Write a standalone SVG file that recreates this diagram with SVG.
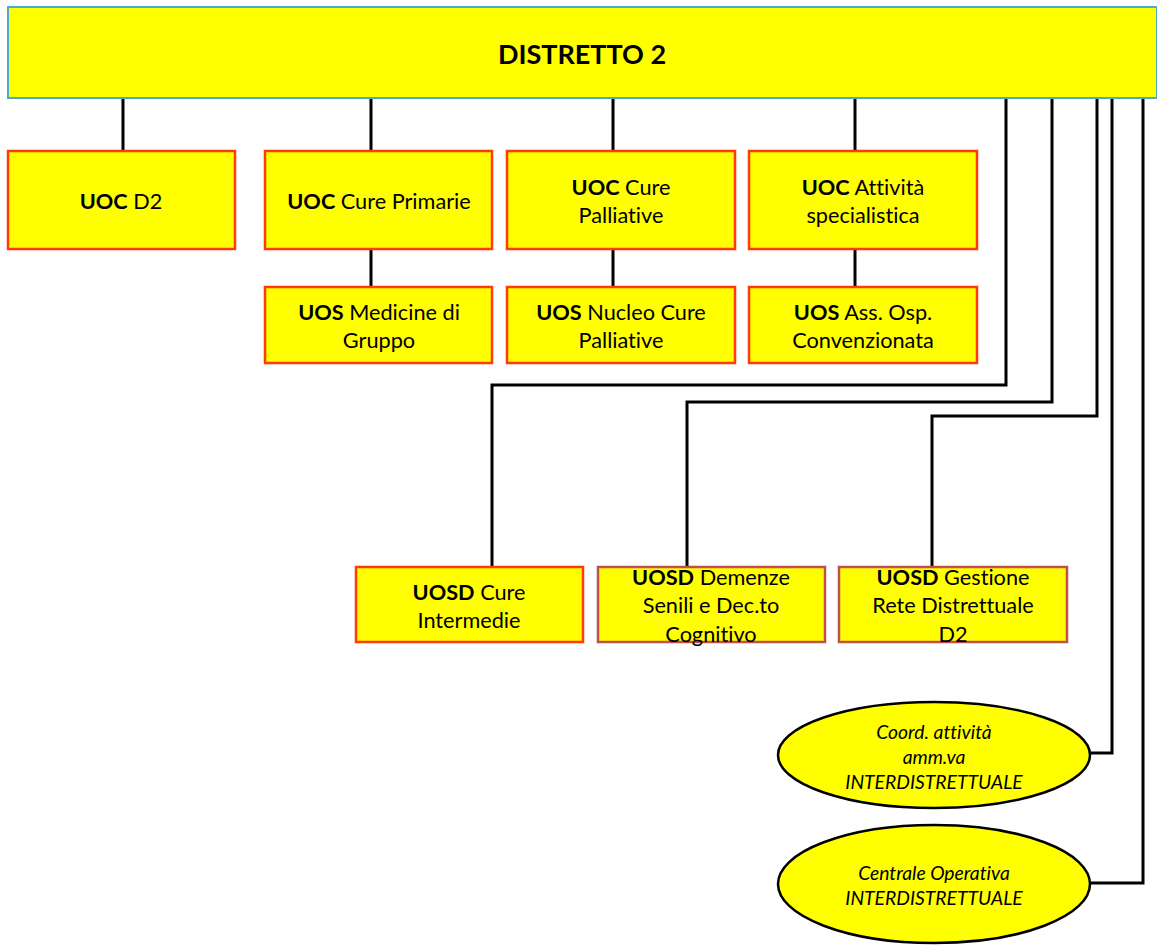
<svg xmlns="http://www.w3.org/2000/svg" width="1157" height="945" viewBox="0 0 1157 945">
<style>
.bg{fill:#ffffff}
.top{fill:#ffff00;stroke:#4bacc6;stroke-width:2}
.box{fill:#ffff00;stroke:#ff3b0a;stroke-width:2.5}
.box2{fill:#ffff00;stroke:#c0504d;stroke-width:2.5}
.ell{fill:#ffff00;stroke:#000;stroke-width:2.5}
text{font-variant-ligatures:none;font-feature-settings:"liga" 0,"clig" 0}
.t{font-family:Lato,"Liberation Sans",sans-serif;font-size:21.7px;fill:#000;text-anchor:middle}
.b{font-weight:bold}
.ti{font-family:Lato,"Liberation Sans",sans-serif;font-size:19.3px;font-style:italic;fill:#000;text-anchor:middle}
.title{font-family:Lato,"Liberation Sans",sans-serif;font-size:27px;font-weight:bold;fill:#000;text-anchor:middle}
.c{fill:none;stroke:#000;stroke-width:3}
</style>
<rect class="bg" x="0" y="0" width="1157" height="945"/>
<g id="connectors">
<path class="c" d="M123 98V150"/>
<path class="c" d="M371 98V150"/>
<path class="c" d="M613 98V150"/>
<path class="c" d="M855 98V150"/>
<path class="c" d="M371 249V287"/>
<path class="c" d="M613 249V287"/>
<path class="c" d="M855 249V287"/>
<path class="c" d="M1006 98V385H492V567"/>
<path class="c" d="M1052 98V402H687V567"/>
<path class="c" d="M1097 98V416H932V567"/>
<path class="c" d="M1112 98V753H1089"/>
<path class="c" d="M1143 98V883H1089"/>
</g>
<g id="distretto2">
<rect class="top" x="8" y="7" width="1149" height="91"/>
<text class="title" x="582" y="64">DISTRETTO 2</text>
</g>
<g id="uoc-d2">
<rect class="box" x="8" y="151" width="227" height="98"/>
<text class="t" x="121" y="209"><tspan class="b">UOC</tspan> D2</text>
</g>
<g id="uoc-cure-primarie">
<rect class="box" x="265" y="151" width="227" height="98"/>
<text class="t" x="379" y="209"><tspan class="b">UOC</tspan> Cure Primarie</text>
</g>
<g id="uoc-cure-palliative">
<rect class="box" x="507" y="151" width="228" height="98"/>
<text class="t" x="621" y="195"><tspan class="b">UOC</tspan> Cure</text>
<text class="t" x="621" y="223">Palliative</text>
</g>
<g id="uoc-attivita">
<rect class="box" x="749" y="151" width="228" height="98"/>
<text class="t" x="863" y="195"><tspan class="b">UOC</tspan> Attività</text>
<text class="t" x="863" y="223">specialistica</text>
</g>
<g id="uos-medicine">
<rect class="box" x="265" y="287" width="227" height="76"/>
<text class="t" x="379" y="320"><tspan class="b">UOS</tspan> Medicine di</text>
<text class="t" x="379" y="348">Gruppo</text>
</g>
<g id="uos-nucleo">
<rect class="box" x="507" y="287" width="228" height="76"/>
<text class="t" x="621" y="320"><tspan class="b">UOS</tspan> Nucleo Cure</text>
<text class="t" x="621" y="348">Palliative</text>
</g>
<g id="uos-ass-osp">
<rect class="box" x="749" y="287" width="228" height="76"/>
<text class="t" x="863" y="320"><tspan class="b">UOS</tspan> Ass. Osp.</text>
<text class="t" x="863" y="348">Convenzionata</text>
</g>
<g id="uosd-cure-intermedie">
<rect class="box" x="356" y="567" width="227" height="75"/>
<text class="t" x="469" y="600"><tspan class="b">UOSD</tspan> Cure</text>
<text class="t" x="469" y="628">Intermedie</text>
</g>
<g id="uosd-demenze">
<rect class="box2" x="598" y="567" width="227" height="75"/>
<text class="t" x="711" y="585"><tspan class="b">UOSD</tspan> Demenze</text>
<text class="t" x="711" y="613">Senili e Dec.to</text>
<text class="t" x="711" y="642">Cognitivo</text>
</g>
<g id="uosd-gestione">
<rect class="box2" x="839" y="567" width="228" height="75"/>
<text class="t" x="953" y="585"><tspan class="b">UOSD</tspan> Gestione</text>
<text class="t" x="953" y="613">Rete Distrettuale</text>
<text class="t" x="953" y="642">D2</text>
</g>
<g id="coord-attivita">
<ellipse class="ell" cx="934" cy="755" rx="156" ry="53"/>
<text class="ti" x="934" y="739">Coord. attività</text>
<text class="ti" x="934" y="764">amm.va</text>
<text class="ti" x="934" y="789">INTERDISTRETTUALE</text>
</g>
<g id="centrale-operativa">
<ellipse class="ell" cx="934" cy="884" rx="156" ry="59"/>
<text class="ti" x="934" y="880">Centrale Operativa</text>
<text class="ti" x="934" y="905">INTERDISTRETTUALE</text>
</g>
</svg>
